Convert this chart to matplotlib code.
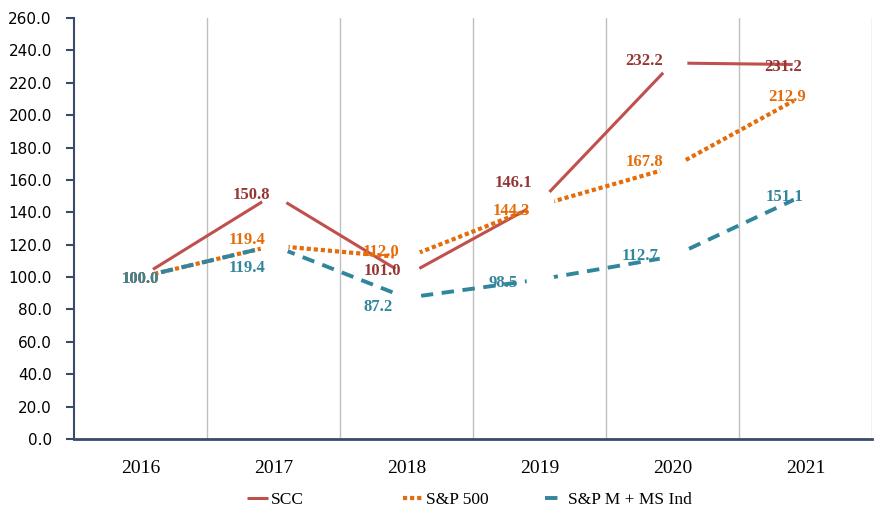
import matplotlib.pyplot as plt
import numpy as np

years = ['2016', '2017', '2018', '2019', '2020', '2021']
scc = [100.0, 150.8, 101.0, 146.1, 232.2, 231.2]
sp500 = [100.0, 119.4, 112.0, 144.3, 167.8, 212.9]
spm_ind = [100.0, 119.4, 87.2, 98.5, 112.7, 151.1]
names = ['SCC', 'S&P 500', 'S&P M + MS Ind']

# label offsets in pixels (dx, dy) relative to each point
scc_off = [(0, -6), (-22, -4), (-24, 0), (-26, 15), (-28, -2), (-22, -6)]
sp500_off = [(0, -6), (-26, 2), (-26, 2), (-28, -10), (-28, 1), (-18, -7)]
spm_off = [(0, -6), (-27, -26), (-28, -13), (-36, -7), (-32, -3), (-21, -7)]

serif = 'Liberation Serif'

fig = plt.figure(figsize=(8.96, 5.22), dpi=100)
ax = fig.add_axes([74 / 896, 83 / 522, (872 - 74) / 896, (439 - 18) / 522])

x = np.arange(len(years))
styles = [
    dict(color='#C0504D', lw=2.2, ls='-'),
    dict(color='#E46C0A', lw=3.0, ls=(0, (1, 0.7))),
    dict(color='#31859C', lw=2.8, ls=(0, (3.2, 2.2))),
]
label_colors = ['#943634', '#E46C0A', '#31859C']
data = [scc, sp500, spm_ind]
offsets = [scc_off, sp500_off, spm_off]

handles = []
for vals, st in zip(data, styles):
    h, = ax.plot(x, vals, zorder=2, solid_capstyle='butt', dash_capstyle='butt', **st)
    handles.append(h)

# white blobs around the points give the broken-line look
for vals in data:
    ax.plot(x, vals, ls='none', marker='o', ms=19, mfc='white', mec='white', zorder=3)

for vals, offs, c in zip(data, offsets, label_colors):
    for xi, v, (dx, dy) in zip(x, vals, offs):
        ax.annotate(f'{v:.1f}', (xi, v), xytext=(dx, dy), textcoords='offset pixels',
                    ha='center', va='baseline', color=c, fontsize=12,
                    fontweight='bold', family=serif, zorder=4)

ax.set_xlim(-0.5, 5.5)
ax.set_ylim(0, 260)
ax.set_yticks(np.arange(0, 261, 20))
ax.set_yticklabels([f'{t:.1f}' for t in np.arange(0, 261, 20)], fontsize=11,
                   family='DejaVu Sans')
ax.set_xticks(x)
ax.set_xticklabels(years, fontsize=14, family=serif)
ax.set_xticks(np.arange(0.5, 6, 1), minor=True)
ax.grid(which='minor', axis='x', color='#BFBFBF', lw=1)
ax.tick_params(axis='x', which='both', length=0, pad=15)
ax.tick_params(axis='y', length=6, width=1.5, color='#394A6A', pad=10)

for s in ['top', 'right']:
    ax.spines[s].set_visible(False)
ax.spines['left'].set_color('#394A6A')
ax.spines['left'].set_linewidth(1.5)
ax.spines['bottom'].set_color('#394A6A')
ax.spines['bottom'].set_linewidth(2)

legend_x = [247, 403, 545]
for h, name, lx in zip(handles, names, legend_x):
    fig.legend([h], [name], loc='center left', bbox_to_anchor=(lx / 896, 22 / 522),
               frameon=False, borderpad=0, borderaxespad=0, handlelength=1.2,
               handletextpad=0.15, prop={'family': serif, 'size': 12.5})

fig.savefig('out.png', dpi=100)
